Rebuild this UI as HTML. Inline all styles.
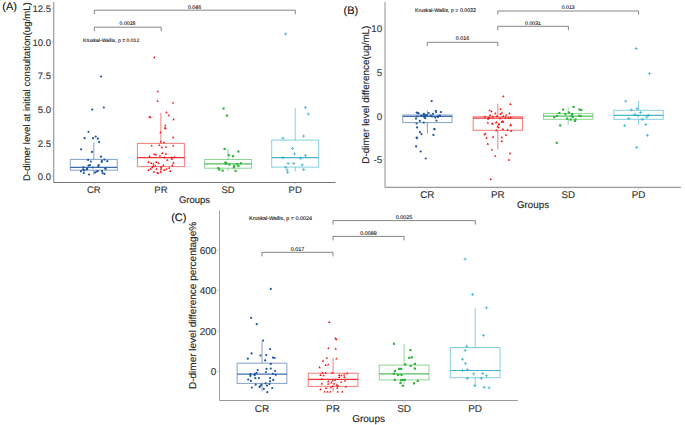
<!DOCTYPE html>
<html><head><meta charset="utf-8"><style>
html,body{margin:0;padding:0;background:#fff;width:685px;height:425px;overflow:hidden}
svg{display:block}
</style></head><body>
<svg width="685" height="425" viewBox="0 0 685 425" text-rendering="geometricPrecision" font-family='"Liberation Sans", sans-serif'>
<rect width="685" height="425" fill="#fff"/>
<line x1="53.7" y1="2" x2="53.7" y2="182.5" stroke="#999" stroke-width="1.2"/>
<line x1="53.7" y1="182.5" x2="335.5" y2="182.5" stroke="#737373" stroke-width="1.1"/>
<line x1="51.7" y1="176.0" x2="53.2" y2="176.0" stroke="#bbb" stroke-width="0.8"/>
<text x="51.0" y="180.12" font-size="9.5" text-anchor="end" fill="#333" stroke="#333" stroke-width="0.12">0.0</text>
<line x1="51.7" y1="142.45" x2="53.2" y2="142.45" stroke="#bbb" stroke-width="0.8"/>
<text x="51.0" y="146.57" font-size="9.5" text-anchor="end" fill="#333" stroke="#333" stroke-width="0.12">2.5</text>
<line x1="51.7" y1="108.9" x2="53.2" y2="108.9" stroke="#bbb" stroke-width="0.8"/>
<text x="51.0" y="113.03" font-size="9.5" text-anchor="end" fill="#333" stroke="#333" stroke-width="0.12">5.0</text>
<line x1="51.7" y1="75.35" x2="53.2" y2="75.35" stroke="#bbb" stroke-width="0.8"/>
<text x="51.0" y="79.47" font-size="9.5" text-anchor="end" fill="#333" stroke="#333" stroke-width="0.12">7.5</text>
<line x1="51.7" y1="41.80000000000001" x2="53.2" y2="41.80000000000001" stroke="#bbb" stroke-width="0.8"/>
<text x="51.0" y="45.93" font-size="9.5" text-anchor="end" fill="#333" stroke="#333" stroke-width="0.12">10.0</text>
<line x1="51.7" y1="8.25" x2="53.2" y2="8.25" stroke="#bbb" stroke-width="0.8"/>
<text x="51.0" y="12.38" font-size="9.5" text-anchor="end" fill="#333" stroke="#333" stroke-width="0.12">12.5</text>
<line x1="93.78571428571428" y1="182.60000000000002" x2="93.78571428571428" y2="184.10000000000002" stroke="#bbb" stroke-width="0.8"/>
<text x="93.78571428571428" y="193.2" font-size="9.5" text-anchor="middle" fill="#333" stroke="#333" stroke-width="0.12">CR</text>
<line x1="160.92857142857142" y1="182.60000000000002" x2="160.92857142857142" y2="184.10000000000002" stroke="#bbb" stroke-width="0.8"/>
<text x="160.92857142857142" y="193.2" font-size="9.5" text-anchor="middle" fill="#333" stroke="#333" stroke-width="0.12">PR</text>
<line x1="228.07142857142858" y1="182.60000000000002" x2="228.07142857142858" y2="184.10000000000002" stroke="#bbb" stroke-width="0.8"/>
<text x="228.07142857142858" y="193.2" font-size="9.5" text-anchor="middle" fill="#333" stroke="#333" stroke-width="0.12">SD</text>
<line x1="295.21428571428567" y1="182.60000000000002" x2="295.21428571428567" y2="184.10000000000002" stroke="#bbb" stroke-width="0.8"/>
<text x="295.21428571428567" y="193.2" font-size="9.5" text-anchor="middle" fill="#333" stroke="#333" stroke-width="0.12">PD</text>
<text x="194.5" y="203.3" font-size="9.5" text-anchor="middle" fill="#222" stroke="#222" stroke-width="0.12">Groups</text>
<text x="29.7" y="91.65" font-size="9.6" text-anchor="middle" fill="#222" stroke="#222" stroke-width="0.12" transform="rotate(-90 29.7 91.65)">D-dimer level at initial consultation(ug/mL)</text>
<text x="2.3" y="10.3" font-size="11" text-anchor="start" fill="#111" stroke="#111" stroke-width="0.12">(A)</text>
<g stroke="#1d55a0" fill="none">
<line x1="93.8" y1="159.4" x2="93.8" y2="142.2" stroke-width="1" stroke-opacity="0.55"/>
<line x1="93.8" y1="170.2" x2="93.8" y2="174.8" stroke-width="1" stroke-opacity="0.55"/>
<rect x="70.3" y="159.4" width="47.0" height="10.799999999999983" stroke-width="1" stroke-opacity="0.55"/>
<line x1="70.3" y1="167.4" x2="117.3" y2="167.4" stroke-width="1.2" stroke-opacity="0.85"/>
</g>
<circle cx="92.3" cy="109.6" r="1.1" fill="#1d55a0"/>
<circle cx="103.8" cy="107.5" r="1.1" fill="#1d55a0"/>
<circle cx="101" cy="76.5" r="1.1" fill="#1d55a0"/>
<circle cx="88.5" cy="131.8" r="1.1" fill="#1d55a0"/>
<circle cx="84.6" cy="138.2" r="1.1" fill="#1d55a0"/>
<circle cx="93.0" cy="138.2" r="1.1" fill="#1d55a0"/>
<circle cx="95.7" cy="136.6" r="1.1" fill="#1d55a0"/>
<circle cx="97.8" cy="138.7" r="1.1" fill="#1d55a0"/>
<circle cx="99.1" cy="142.1" r="1.1" fill="#1d55a0"/>
<circle cx="81.1" cy="149.3" r="1.1" fill="#1d55a0"/>
<circle cx="92.0" cy="151.9" r="1.1" fill="#1d55a0"/>
<circle cx="101" cy="156.7" r="1.1" fill="#1d55a0"/>
<circle cx="88.1" cy="159.9" r="1.1" fill="#1d55a0"/>
<circle cx="90.9" cy="161.5" r="1.1" fill="#1d55a0"/>
<circle cx="101.8" cy="160.9" r="1.1" fill="#1d55a0"/>
<circle cx="101.8" cy="162" r="1.1" fill="#1d55a0"/>
<circle cx="104.4" cy="159.6" r="1.1" fill="#1d55a0"/>
<circle cx="107.3" cy="161.2" r="1.1" fill="#1d55a0"/>
<circle cx="89.9" cy="165.2" r="1.1" fill="#1d55a0"/>
<circle cx="88.5" cy="165.7" r="1.1" fill="#1d55a0"/>
<circle cx="98.7" cy="165.2" r="1.1" fill="#1d55a0"/>
<circle cx="98.3" cy="166.7" r="1.1" fill="#1d55a0"/>
<circle cx="83.5" cy="167.3" r="1.1" fill="#1d55a0"/>
<circle cx="87.2" cy="168.9" r="1.1" fill="#1d55a0"/>
<circle cx="92.7" cy="167.5" r="1.1" fill="#1d55a0"/>
<circle cx="105.2" cy="168.3" r="1.1" fill="#1d55a0"/>
<circle cx="105.7" cy="169" r="1.1" fill="#1d55a0"/>
<circle cx="83.2" cy="169.4" r="1.1" fill="#1d55a0"/>
<circle cx="84" cy="170.4" r="1.1" fill="#1d55a0"/>
<circle cx="80.9" cy="171.2" r="1.1" fill="#1d55a0"/>
<circle cx="83.8" cy="173.1" r="1.1" fill="#1d55a0"/>
<circle cx="89.1" cy="174.5" r="1.1" fill="#1d55a0"/>
<circle cx="95.2" cy="172.6" r="1.1" fill="#1d55a0"/>
<circle cx="97.8" cy="171" r="1.1" fill="#1d55a0"/>
<circle cx="102" cy="171" r="1.1" fill="#1d55a0"/>
<circle cx="102.6" cy="173.1" r="1.1" fill="#1d55a0"/>
<circle cx="104.4" cy="173.9" r="1.1" fill="#1d55a0"/>
<circle cx="86.7" cy="169.4" r="1.1" fill="#1d55a0"/>
<circle cx="96.7" cy="171.5" r="1.1" fill="#1d55a0"/>
<g stroke="#f01010" fill="none">
<line x1="160.9" y1="143.4" x2="160.9" y2="112.8" stroke-width="1" stroke-opacity="0.55"/>
<line x1="160.9" y1="166.6" x2="160.9" y2="173.5" stroke-width="1" stroke-opacity="0.55"/>
<rect x="137.4" y="143.4" width="47.0" height="23.19999999999999" stroke-width="1" stroke-opacity="0.55"/>
<line x1="137.4" y1="157.7" x2="184.4" y2="157.7" stroke-width="1.2" stroke-opacity="0.85"/>
</g>
<path d="M154.3 56.10L155.50 58.26L153.10 58.26Z" fill="#f01010"/>
<path d="M157.8 90.20L159.00 92.36L156.60 92.36Z" fill="#f01010"/>
<path d="M157.6 99.70L158.80 101.86L156.40 101.86Z" fill="#f01010"/>
<path d="M173.0 101.40L174.20 103.56L171.80 103.56Z" fill="#f01010"/>
<path d="M166.5 111.10L167.70 113.26L165.30 113.26Z" fill="#f01010"/>
<path d="M168.7 114.20L169.90 116.36L167.50 116.36Z" fill="#f01010"/>
<path d="M149.4 115.40L150.60 117.56L148.20 117.56Z" fill="#f01010"/>
<path d="M150.4 116.10L151.60 118.26L149.20 118.26Z" fill="#f01010"/>
<path d="M173.5 118.00L174.70 120.16L172.30 120.16Z" fill="#f01010"/>
<path d="M165.3 124.20L166.50 126.36L164.10 126.36Z" fill="#f01010"/>
<path d="M164.9 126.50L166.10 128.66L163.70 128.66Z" fill="#f01010"/>
<path d="M165.6 127.10L166.80 129.26L164.40 129.26Z" fill="#f01010"/>
<path d="M160.5 131.20L161.70 133.36L159.30 133.36Z" fill="#f01010"/>
<path d="M173.2 136.10L174.40 138.26L172.00 138.26Z" fill="#f01010"/>
<path d="M160.7 140.40L161.90 142.56L159.50 142.56Z" fill="#f01010"/>
<path d="M163.9 141.20L165.10 143.36L162.70 143.36Z" fill="#f01010"/>
<path d="M151.7 144.40L152.90 146.56L150.50 146.56Z" fill="#f01010"/>
<path d="M159.4 143.90L160.60 146.06L158.20 146.06Z" fill="#f01010"/>
<path d="M161.8 146.00L163.00 148.16L160.60 148.16Z" fill="#f01010"/>
<path d="M166.0 145.70L167.20 147.86L164.80 147.86Z" fill="#f01010"/>
<path d="M173.2 144.40L174.40 146.56L172.00 146.56Z" fill="#f01010"/>
<path d="M154.3 152.90L155.50 155.06L153.10 155.06Z" fill="#f01010"/>
<path d="M155.9 153.40L157.10 155.56L154.70 155.56Z" fill="#f01010"/>
<path d="M162.3 151.80L163.50 153.96L161.10 153.96Z" fill="#f01010"/>
<path d="M166.0 152.60L167.20 154.76L164.80 154.76Z" fill="#f01010"/>
<path d="M149.6 155.00L150.80 157.16L148.40 157.16Z" fill="#f01010"/>
<path d="M159.9 154.40L161.10 156.56L158.70 156.56Z" fill="#f01010"/>
<path d="M164.4 156.00L165.60 158.16L163.20 158.16Z" fill="#f01010"/>
<path d="M171.8 156.00L173.00 158.16L170.60 158.16Z" fill="#f01010"/>
<path d="M174.5 155.80L175.70 157.96L173.30 157.96Z" fill="#f01010"/>
<path d="M171.8 157.60L173.00 159.76L170.60 159.76Z" fill="#f01010"/>
<path d="M167.3 158.70L168.50 160.86L166.10 160.86Z" fill="#f01010"/>
<path d="M148.5 160.80L149.70 162.96L147.30 162.96Z" fill="#f01010"/>
<path d="M151.2 161.90L152.40 164.06L150.00 164.06Z" fill="#f01010"/>
<path d="M153.5 162.40L154.70 164.56L152.30 164.56Z" fill="#f01010"/>
<path d="M156.3 160.80L157.50 162.96L155.10 162.96Z" fill="#f01010"/>
<path d="M158.6 161.90L159.80 164.06L157.40 164.06Z" fill="#f01010"/>
<path d="M173.4 161.50L174.60 163.66L172.20 163.66Z" fill="#f01010"/>
<path d="M172.3 164.00L173.50 166.16L171.10 166.16Z" fill="#f01010"/>
<path d="M155.4 164.50L156.60 166.66L154.20 166.66Z" fill="#f01010"/>
<path d="M153.3 164.50L154.50 166.66L152.10 166.66Z" fill="#f01010"/>
<path d="M163.3 164.00L164.50 166.16L162.10 166.16Z" fill="#f01010"/>
<path d="M161.2 165.60L162.40 167.76L160.00 167.76Z" fill="#f01010"/>
<path d="M152.2 166.10L153.40 168.26L151.00 168.26Z" fill="#f01010"/>
<path d="M156.5 167.50L157.70 169.66L155.30 169.66Z" fill="#f01010"/>
<path d="M150.6 167.70L151.80 169.86L149.40 169.86Z" fill="#f01010"/>
<path d="M148.5 168.80L149.70 170.96L147.30 170.96Z" fill="#f01010"/>
<path d="M161.2 167.70L162.40 169.86L160.00 169.86Z" fill="#f01010"/>
<path d="M164.4 168.80L165.60 170.96L163.20 170.96Z" fill="#f01010"/>
<path d="M166.5 167.70L167.70 169.86L165.30 169.86Z" fill="#f01010"/>
<path d="M169.2 166.60L170.40 168.76L168.00 168.76Z" fill="#f01010"/>
<path d="M154.1 170.60L155.30 172.76L152.90 172.76Z" fill="#f01010"/>
<path d="M157.3 171.40L158.50 173.56L156.10 173.56Z" fill="#f01010"/>
<path d="M160.7 170.60L161.90 172.76L159.50 172.76Z" fill="#f01010"/>
<path d="M170.2 169.80L171.40 171.96L169.00 171.96Z" fill="#f01010"/>
<path d="M158.0 171.90L159.20 174.06L156.80 174.06Z" fill="#f01010"/>
<g stroke="#33b33f" fill="none">
<line x1="228.1" y1="159.5" x2="228.1" y2="148.9" stroke-width="1" stroke-opacity="0.55"/>
<line x1="228.1" y1="168.2" x2="228.1" y2="171" stroke-width="1" stroke-opacity="0.55"/>
<rect x="204.6" y="159.5" width="47.0" height="8.699999999999989" stroke-width="1" stroke-opacity="0.55"/>
<line x1="204.6" y1="163.8" x2="251.6" y2="163.8" stroke-width="1.2" stroke-opacity="0.85"/>
</g>
<rect x="222.40" y="107.40" width="2.2" height="2.2" fill="#33b33f"/>
<rect x="225.80" y="114.50" width="2.2" height="2.2" fill="#33b33f"/>
<rect x="223.50" y="147.80" width="2.2" height="2.2" fill="#33b33f"/>
<rect x="237.30" y="150.40" width="2.2" height="2.2" fill="#33b33f"/>
<rect x="227.60" y="153.90" width="2.2" height="2.2" fill="#33b33f"/>
<rect x="232.00" y="155.10" width="2.2" height="2.2" fill="#33b33f"/>
<rect x="224.30" y="161.50" width="2.2" height="2.2" fill="#33b33f"/>
<rect x="225.20" y="161.90" width="2.2" height="2.2" fill="#33b33f"/>
<rect x="224.80" y="162.60" width="2.2" height="2.2" fill="#33b33f"/>
<rect x="228.30" y="163.50" width="2.2" height="2.2" fill="#33b33f"/>
<rect x="236.10" y="162.90" width="2.2" height="2.2" fill="#33b33f"/>
<rect x="237.30" y="164.80" width="2.2" height="2.2" fill="#33b33f"/>
<rect x="239.80" y="162.20" width="2.2" height="2.2" fill="#33b33f"/>
<rect x="233.20" y="164.80" width="2.2" height="2.2" fill="#33b33f"/>
<rect x="232.80" y="166.20" width="2.2" height="2.2" fill="#33b33f"/>
<rect x="217.20" y="167.10" width="2.2" height="2.2" fill="#33b33f"/>
<rect x="218.20" y="168.50" width="2.2" height="2.2" fill="#33b33f"/>
<rect x="221.50" y="169.50" width="2.2" height="2.2" fill="#33b33f"/>
<rect x="234.50" y="169.80" width="2.2" height="2.2" fill="#33b33f"/>
<g stroke="#22a8c6" fill="none">
<line x1="295.2" y1="140.1" x2="295.2" y2="107.9" stroke-width="1" stroke-opacity="0.55"/>
<line x1="295.2" y1="167.1" x2="295.2" y2="171.5" stroke-width="1" stroke-opacity="0.55"/>
<rect x="271.7" y="140.1" width="47.0" height="27.0" stroke-width="1" stroke-opacity="0.55"/>
<line x1="271.7" y1="157.7" x2="318.7" y2="157.7" stroke-width="1.2" stroke-opacity="0.85"/>
</g>
<path d="M284.00 34.0H287.20M285.6 32.40V35.60" stroke="#22a8c6" stroke-width="0.65" fill="none"/>
<path d="M303.80 107.5H307.00M305.4 105.90V109.10" stroke="#22a8c6" stroke-width="0.65" fill="none"/>
<path d="M306.70 114.1H309.90M308.3 112.50V115.70" stroke="#22a8c6" stroke-width="0.65" fill="none"/>
<path d="M281.30 138.2H284.50M282.9 136.60V139.80" stroke="#22a8c6" stroke-width="0.65" fill="none"/>
<path d="M302.00 136.1H305.20M303.6 134.50V137.70" stroke="#22a8c6" stroke-width="0.65" fill="none"/>
<path d="M291.00 148.5H294.20M292.6 146.90V150.10" stroke="#22a8c6" stroke-width="0.65" fill="none"/>
<path d="M292.90 154H296.10M294.5 152.40V155.60" stroke="#22a8c6" stroke-width="0.65" fill="none"/>
<path d="M303.80 155.5H307.00M305.4 153.90V157.10" stroke="#22a8c6" stroke-width="0.65" fill="none"/>
<path d="M281.30 157.7H284.50M282.9 156.10V159.30" stroke="#22a8c6" stroke-width="0.65" fill="none"/>
<path d="M299.10 158.3H302.30M300.7 156.70V159.90" stroke="#22a8c6" stroke-width="0.65" fill="none"/>
<path d="M286.50 163.4H289.70M288.1 161.80V165.00" stroke="#22a8c6" stroke-width="0.65" fill="none"/>
<path d="M292.20 163.4H295.40M293.8 161.80V165.00" stroke="#22a8c6" stroke-width="0.65" fill="none"/>
<path d="M300.60 164.9H303.80M302.2 163.30V166.50" stroke="#22a8c6" stroke-width="0.65" fill="none"/>
<path d="M284.10 167.3H287.30M285.7 165.70V168.90" stroke="#22a8c6" stroke-width="0.65" fill="none"/>
<path d="M285.60 170H288.80M287.2 168.40V171.60" stroke="#22a8c6" stroke-width="0.65" fill="none"/>
<path d="M286.00 172.4H289.20M287.6 170.80V174.00" stroke="#22a8c6" stroke-width="0.65" fill="none"/>
<path d="M302.00 169.6H305.20M303.6 168.00V171.20" stroke="#22a8c6" stroke-width="0.65" fill="none"/>
<line x1="385.0" y1="2" x2="385.0" y2="187.4" stroke="#c8c8c8" stroke-width="2"/>
<line x1="385.0" y1="187.4" x2="680.9" y2="187.4" stroke="#999" stroke-width="1.2"/>
<line x1="383.3" y1="159.65" x2="384.8" y2="159.65" stroke="#bbb" stroke-width="0.8"/>
<text x="382.1" y="163.38" font-size="9.8" text-anchor="end" fill="#333" stroke="#333" stroke-width="0.12">-5</text>
<line x1="383.3" y1="115.9" x2="384.8" y2="115.9" stroke="#bbb" stroke-width="0.8"/>
<text x="382.1" y="119.63" font-size="9.8" text-anchor="end" fill="#333" stroke="#333" stroke-width="0.12">0</text>
<line x1="383.3" y1="72.15" x2="384.8" y2="72.15" stroke="#bbb" stroke-width="0.8"/>
<text x="382.1" y="75.88" font-size="9.8" text-anchor="end" fill="#333" stroke="#333" stroke-width="0.12">5</text>
<line x1="383.3" y1="28.400000000000006" x2="384.8" y2="28.400000000000006" stroke="#bbb" stroke-width="0.8"/>
<text x="382.1" y="32.13" font-size="9.8" text-anchor="end" fill="#333" stroke="#333" stroke-width="0.12">10</text>
<line x1="427.3571428571429" y1="187.60000000000002" x2="427.3571428571429" y2="189.10000000000002" stroke="#bbb" stroke-width="0.8"/>
<text x="427.3571428571429" y="197.8" font-size="9.8" text-anchor="middle" fill="#333" stroke="#333" stroke-width="0.12">CR</text>
<line x1="497.7857142857143" y1="187.60000000000002" x2="497.7857142857143" y2="189.10000000000002" stroke="#bbb" stroke-width="0.8"/>
<text x="497.7857142857143" y="197.8" font-size="9.8" text-anchor="middle" fill="#333" stroke="#333" stroke-width="0.12">PR</text>
<line x1="568.2142857142858" y1="187.60000000000002" x2="568.2142857142858" y2="189.10000000000002" stroke="#bbb" stroke-width="0.8"/>
<text x="568.2142857142858" y="197.8" font-size="9.8" text-anchor="middle" fill="#333" stroke="#333" stroke-width="0.12">SD</text>
<line x1="638.6428571428571" y1="187.60000000000002" x2="638.6428571428571" y2="189.10000000000002" stroke="#bbb" stroke-width="0.8"/>
<text x="638.6428571428571" y="197.8" font-size="9.8" text-anchor="middle" fill="#333" stroke="#333" stroke-width="0.12">PD</text>
<text x="533.0" y="208.4" font-size="9.8" text-anchor="middle" fill="#222" stroke="#222" stroke-width="0.12">Groups</text>
<text x="368.6" y="94.65" font-size="9.9" text-anchor="middle" fill="#222" stroke="#222" stroke-width="0.12" transform="rotate(-90 368.6 94.65)">D-dimer level difference(ug/mL)</text>
<text x="343.5" y="13.7" font-size="11" text-anchor="start" fill="#111" stroke="#111" stroke-width="0.12">(B)</text>
<g stroke="#1d55a0" fill="none">
<line x1="427.4" y1="115.0" x2="427.4" y2="110.8" stroke-width="1" stroke-opacity="0.55"/>
<line x1="427.4" y1="122.6" x2="427.4" y2="133.7" stroke-width="1" stroke-opacity="0.55"/>
<rect x="402.75" y="115.0" width="49.3" height="7.599999999999994" stroke-width="1" stroke-opacity="0.55"/>
<line x1="402.75" y1="116.3" x2="452.04999999999995" y2="116.3" stroke-width="1.2" stroke-opacity="0.85"/>
</g>
<circle cx="431.7" cy="101.1" r="1.1" fill="#1d55a0"/>
<circle cx="435.7" cy="110.8" r="1.1" fill="#1d55a0"/>
<circle cx="436.1" cy="112.1" r="1.1" fill="#1d55a0"/>
<circle cx="440.9" cy="112.1" r="1.1" fill="#1d55a0"/>
<circle cx="416.6" cy="112.5" r="1.1" fill="#1d55a0"/>
<circle cx="417.7" cy="113" r="1.1" fill="#1d55a0"/>
<circle cx="418.6" cy="113.4" r="1.1" fill="#1d55a0"/>
<circle cx="428.7" cy="113" r="1.1" fill="#1d55a0"/>
<circle cx="433" cy="113.8" r="1.1" fill="#1d55a0"/>
<circle cx="423.8" cy="113.8" r="1.1" fill="#1d55a0"/>
<circle cx="421.2" cy="115.6" r="1.1" fill="#1d55a0"/>
<circle cx="423.4" cy="115.6" r="1.1" fill="#1d55a0"/>
<circle cx="424.7" cy="114.7" r="1.1" fill="#1d55a0"/>
<circle cx="426" cy="116" r="1.1" fill="#1d55a0"/>
<circle cx="424.3" cy="116.9" r="1.1" fill="#1d55a0"/>
<circle cx="426.9" cy="115.1" r="1.1" fill="#1d55a0"/>
<circle cx="430.8" cy="115.6" r="1.1" fill="#1d55a0"/>
<circle cx="432.2" cy="116.5" r="1.1" fill="#1d55a0"/>
<circle cx="416.8" cy="116.5" r="1.1" fill="#1d55a0"/>
<circle cx="438.3" cy="116" r="1.1" fill="#1d55a0"/>
<circle cx="440" cy="115.6" r="1.1" fill="#1d55a0"/>
<circle cx="437.9" cy="117.1" r="1.1" fill="#1d55a0"/>
<circle cx="435.2" cy="117.6" r="1.1" fill="#1d55a0"/>
<circle cx="425.2" cy="118.2" r="1.1" fill="#1d55a0"/>
<circle cx="416" cy="118.6" r="1.1" fill="#1d55a0"/>
<circle cx="419.9" cy="120.8" r="1.1" fill="#1d55a0"/>
<circle cx="436.4" cy="120.6" r="1.1" fill="#1d55a0"/>
<circle cx="423.8" cy="122.6" r="1.1" fill="#1d55a0"/>
<circle cx="416.6" cy="123.5" r="1.1" fill="#1d55a0"/>
<circle cx="417.1" cy="127.4" r="1.1" fill="#1d55a0"/>
<circle cx="434.3" cy="129" r="1.1" fill="#1d55a0"/>
<circle cx="434.6" cy="129.3" r="1.1" fill="#1d55a0"/>
<circle cx="419.9" cy="132.1" r="1.1" fill="#1d55a0"/>
<circle cx="421.4" cy="134.1" r="1.1" fill="#1d55a0"/>
<circle cx="433.4" cy="134.9" r="1.1" fill="#1d55a0"/>
<circle cx="416.6" cy="137.5" r="1.1" fill="#1d55a0"/>
<circle cx="417" cy="138.2" r="1.1" fill="#1d55a0"/>
<circle cx="416.1" cy="146.4" r="1.1" fill="#1d55a0"/>
<circle cx="420.6" cy="151.5" r="1.1" fill="#1d55a0"/>
<circle cx="425.7" cy="158.5" r="1.1" fill="#1d55a0"/>
<g stroke="#f01010" fill="none">
<line x1="497.8" y1="116.7" x2="497.8" y2="103.8" stroke-width="1" stroke-opacity="0.55"/>
<line x1="497.8" y1="130.3" x2="497.8" y2="149.6" stroke-width="1" stroke-opacity="0.55"/>
<rect x="473.15000000000003" y="116.7" width="49.3" height="13.600000000000009" stroke-width="1" stroke-opacity="0.55"/>
<line x1="473.15000000000003" y1="118.2" x2="522.45" y2="118.2" stroke-width="1.2" stroke-opacity="0.85"/>
</g>
<path d="M503.3 95.10L504.50 97.26L502.10 97.26Z" fill="#f01010"/>
<path d="M510.5 102.80L511.70 104.96L509.30 104.96Z" fill="#f01010"/>
<path d="M500.5 107.80L501.70 109.96L499.30 109.96Z" fill="#f01010"/>
<path d="M489.6 109.20L490.80 111.36L488.40 111.36Z" fill="#f01010"/>
<path d="M491.5 110.00L492.70 112.16L490.30 112.16Z" fill="#f01010"/>
<path d="M495.3 112.00L496.50 114.16L494.10 114.16Z" fill="#f01010"/>
<path d="M501.9 111.60L503.10 113.76L500.70 113.76Z" fill="#f01010"/>
<path d="M500.5 112.80L501.70 114.96L499.30 114.96Z" fill="#f01010"/>
<path d="M509.4 112.00L510.60 114.16L508.20 114.16Z" fill="#f01010"/>
<path d="M490.1 113.90L491.30 116.06L488.90 116.06Z" fill="#f01010"/>
<path d="M506.1 113.70L507.30 115.86L504.90 115.86Z" fill="#f01010"/>
<path d="M484.9 115.30L486.10 117.46L483.70 117.46Z" fill="#f01010"/>
<path d="M492.9 115.30L494.10 117.46L491.70 117.46Z" fill="#f01010"/>
<path d="M497.0 114.80L498.20 116.96L495.80 116.96Z" fill="#f01010"/>
<path d="M503.3 114.80L504.50 116.96L502.10 116.96Z" fill="#f01010"/>
<path d="M488.2 116.70L489.40 118.86L487.00 118.86Z" fill="#f01010"/>
<path d="M489.4 116.30L490.60 118.46L488.20 118.46Z" fill="#f01010"/>
<path d="M505.6 116.30L506.80 118.46L504.40 118.46Z" fill="#f01010"/>
<path d="M508.9 116.70L510.10 118.86L507.70 118.86Z" fill="#f01010"/>
<path d="M510.8 116.30L512.00 118.46L509.60 118.46Z" fill="#f01010"/>
<path d="M500.0 117.20L501.20 119.36L498.80 119.36Z" fill="#f01010"/>
<path d="M488.2 117.70L489.40 119.86L487.00 119.86Z" fill="#f01010"/>
<path d="M502.3 120.00L503.50 122.16L501.10 122.16Z" fill="#f01010"/>
<path d="M503.3 120.50L504.50 122.66L502.10 122.66Z" fill="#f01010"/>
<path d="M487.8 121.40L489.00 123.56L486.60 123.56Z" fill="#f01010"/>
<path d="M492.3 122.20L493.50 124.36L491.10 124.36Z" fill="#f01010"/>
<path d="M496.2 121.20L497.40 123.36L495.00 123.36Z" fill="#f01010"/>
<path d="M499.0 122.80L500.20 124.96L497.80 124.96Z" fill="#f01010"/>
<path d="M510.8 123.30L512.00 125.46L509.60 125.46Z" fill="#f01010"/>
<path d="M492.4 122.40L493.60 124.56L491.20 124.56Z" fill="#f01010"/>
<path d="M496.3 121.20L497.50 123.36L495.10 123.36Z" fill="#f01010"/>
<path d="M501.8 120.70L503.00 122.86L500.60 122.86Z" fill="#f01010"/>
<path d="M498.5 123.40L499.70 125.56L497.30 125.56Z" fill="#f01010"/>
<path d="M497.7 125.30L498.90 127.46L496.50 127.46Z" fill="#f01010"/>
<path d="M498.5 126.20L499.70 128.36L497.30 128.36Z" fill="#f01010"/>
<path d="M510.5 124.00L511.70 126.16L509.30 126.16Z" fill="#f01010"/>
<path d="M502.9 127.80L504.10 129.96L501.70 129.96Z" fill="#f01010"/>
<path d="M507.6 128.60L508.80 130.76L506.40 130.76Z" fill="#f01010"/>
<path d="M511.2 129.50L512.40 131.66L510.00 131.66Z" fill="#f01010"/>
<path d="M496.3 129.00L497.50 131.16L495.10 131.16Z" fill="#f01010"/>
<path d="M484.5 133.20L485.70 135.36L483.30 135.36Z" fill="#f01010"/>
<path d="M485.3 132.30L486.50 134.46L484.10 134.46Z" fill="#f01010"/>
<path d="M486.5 136.50L487.70 138.66L485.30 138.66Z" fill="#f01010"/>
<path d="M493.1 135.60L494.30 137.76L491.90 137.76Z" fill="#f01010"/>
<path d="M501.8 136.10L503.00 138.26L500.60 138.26Z" fill="#f01010"/>
<path d="M505.9 133.60L507.10 135.76L504.70 135.76Z" fill="#f01010"/>
<path d="M501.8 139.80L503.00 141.96L500.60 141.96Z" fill="#f01010"/>
<path d="M487.8 142.60L489.00 144.76L486.60 144.76Z" fill="#f01010"/>
<path d="M491.9 148.40L493.10 150.56L490.70 150.56Z" fill="#f01010"/>
<path d="M510.0 152.00L511.20 154.16L508.80 154.16Z" fill="#f01010"/>
<path d="M495.2 154.70L496.40 156.86L494.00 156.86Z" fill="#f01010"/>
<path d="M508.9 158.60L510.10 160.76L507.70 160.76Z" fill="#f01010"/>
<path d="M490.7 177.80L491.90 179.96L489.50 179.96Z" fill="#f01010"/>
<g stroke="#33b33f" fill="none">
<line x1="568.2" y1="113.4" x2="568.2" y2="107.3" stroke-width="1" stroke-opacity="0.55"/>
<line x1="568.2" y1="119.3" x2="568.2" y2="124.7" stroke-width="1" stroke-opacity="0.55"/>
<rect x="543.5500000000001" y="113.4" width="49.3" height="5.8999999999999915" stroke-width="1" stroke-opacity="0.55"/>
<line x1="543.5500000000001" y1="116.1" x2="592.85" y2="116.1" stroke-width="1.2" stroke-opacity="0.85"/>
</g>
<rect x="572.50" y="105.80" width="2.2" height="2.2" fill="#33b33f"/>
<rect x="562.10" y="108.50" width="2.2" height="2.2" fill="#33b33f"/>
<rect x="578.30" y="108.50" width="2.2" height="2.2" fill="#33b33f"/>
<rect x="580.20" y="108.80" width="2.2" height="2.2" fill="#33b33f"/>
<rect x="558.20" y="112.00" width="2.2" height="2.2" fill="#33b33f"/>
<rect x="567.90" y="111.60" width="2.2" height="2.2" fill="#33b33f"/>
<rect x="564.30" y="113.00" width="2.2" height="2.2" fill="#33b33f"/>
<rect x="571.20" y="113.00" width="2.2" height="2.2" fill="#33b33f"/>
<rect x="570.50" y="114.80" width="2.2" height="2.2" fill="#33b33f"/>
<rect x="555.70" y="114.80" width="2.2" height="2.2" fill="#33b33f"/>
<rect x="553.10" y="116.10" width="2.2" height="2.2" fill="#33b33f"/>
<rect x="578.30" y="114.60" width="2.2" height="2.2" fill="#33b33f"/>
<rect x="579.60" y="115.00" width="2.2" height="2.2" fill="#33b33f"/>
<rect x="571.60" y="115.90" width="2.2" height="2.2" fill="#33b33f"/>
<rect x="566.00" y="117.60" width="2.2" height="2.2" fill="#33b33f"/>
<rect x="569.50" y="118.50" width="2.2" height="2.2" fill="#33b33f"/>
<rect x="574.40" y="118.50" width="2.2" height="2.2" fill="#33b33f"/>
<rect x="573.80" y="119.80" width="2.2" height="2.2" fill="#33b33f"/>
<rect x="559.10" y="124.30" width="2.2" height="2.2" fill="#33b33f"/>
<rect x="555.70" y="141.70" width="2.2" height="2.2" fill="#33b33f"/>
<g stroke="#22a8c6" fill="none">
<line x1="638.6" y1="110.3" x2="638.6" y2="100.8" stroke-width="1" stroke-opacity="0.55"/>
<line x1="638.6" y1="119.3" x2="638.6" y2="125" stroke-width="1" stroke-opacity="0.55"/>
<rect x="613.95" y="110.3" width="49.3" height="9.0" stroke-width="1" stroke-opacity="0.55"/>
<line x1="613.95" y1="115.3" x2="663.25" y2="115.3" stroke-width="1.2" stroke-opacity="0.85"/>
</g>
<path d="M634.60 48.5H637.80M636.2 46.90V50.10" stroke="#22a8c6" stroke-width="0.65" fill="none"/>
<path d="M647.90 73.6H651.10M649.5 72.00V75.20" stroke="#22a8c6" stroke-width="0.65" fill="none"/>
<path d="M624.20 101.2H627.40M625.8 99.60V102.80" stroke="#22a8c6" stroke-width="0.65" fill="none"/>
<path d="M629.70 109.9H632.90M631.3 108.30V111.50" stroke="#22a8c6" stroke-width="0.65" fill="none"/>
<path d="M635.50 108.6H638.70M637.1 107.00V110.20" stroke="#22a8c6" stroke-width="0.65" fill="none"/>
<path d="M639.00 112.5H642.20M640.6 110.90V114.10" stroke="#22a8c6" stroke-width="0.65" fill="none"/>
<path d="M633.30 114.4H636.50M634.9 112.80V116.00" stroke="#22a8c6" stroke-width="0.65" fill="none"/>
<path d="M636.40 115.7H639.60M638 114.10V117.30" stroke="#22a8c6" stroke-width="0.65" fill="none"/>
<path d="M646.70 115.3H649.90M648.3 113.70V116.90" stroke="#22a8c6" stroke-width="0.65" fill="none"/>
<path d="M645.20 117H648.40M646.8 115.40V118.60" stroke="#22a8c6" stroke-width="0.65" fill="none"/>
<path d="M627.10 118.5H630.30M628.7 116.90V120.10" stroke="#22a8c6" stroke-width="0.65" fill="none"/>
<path d="M640.70 119.3H643.90M642.3 117.70V120.90" stroke="#22a8c6" stroke-width="0.65" fill="none"/>
<path d="M623.00 125.6H626.20M624.6 124.00V127.20" stroke="#22a8c6" stroke-width="0.65" fill="none"/>
<path d="M644.20 124.5H647.40M645.8 122.90V126.10" stroke="#22a8c6" stroke-width="0.65" fill="none"/>
<path d="M645.80 135.3H649.00M647.4 133.70V136.90" stroke="#22a8c6" stroke-width="0.65" fill="none"/>
<path d="M635.10 147.4H638.30M636.7 145.80V149.00" stroke="#22a8c6" stroke-width="0.65" fill="none"/>
<line x1="219.5" y1="210.4" x2="219.5" y2="400.5" stroke="#a0a0a0" stroke-width="1"/>
<line x1="219.5" y1="400.5" x2="517.8" y2="400.5" stroke="#999" stroke-width="1"/>
<line x1="217.6" y1="371.4" x2="219.1" y2="371.4" stroke="#bbb" stroke-width="0.8"/>
<text x="216.4" y="375.2" font-size="10" text-anchor="end" fill="#333" stroke="#333" stroke-width="0.12">0</text>
<line x1="217.6" y1="330.9" x2="219.1" y2="330.9" stroke="#bbb" stroke-width="0.8"/>
<text x="216.4" y="334.7" font-size="10" text-anchor="end" fill="#333" stroke="#333" stroke-width="0.12">200</text>
<line x1="217.6" y1="290.4" x2="219.1" y2="290.4" stroke="#bbb" stroke-width="0.8"/>
<text x="216.4" y="294.2" font-size="10" text-anchor="end" fill="#333" stroke="#333" stroke-width="0.12">400</text>
<line x1="217.6" y1="249.89999999999998" x2="219.1" y2="249.89999999999998" stroke="#bbb" stroke-width="0.8"/>
<text x="216.4" y="253.7" font-size="10" text-anchor="end" fill="#333" stroke="#333" stroke-width="0.12">600</text>
<line x1="262.0285714285714" y1="400.8" x2="262.0285714285714" y2="402.3" stroke="#bbb" stroke-width="0.8"/>
<text x="262.0285714285714" y="411.6" font-size="10" text-anchor="middle" fill="#333" stroke="#333" stroke-width="0.12">CR</text>
<line x1="333.07619047619045" y1="400.8" x2="333.07619047619045" y2="402.3" stroke="#bbb" stroke-width="0.8"/>
<text x="333.07619047619045" y="411.6" font-size="10" text-anchor="middle" fill="#333" stroke="#333" stroke-width="0.12">PR</text>
<line x1="404.12380952380954" y1="400.8" x2="404.12380952380954" y2="402.3" stroke="#bbb" stroke-width="0.8"/>
<text x="404.12380952380954" y="411.6" font-size="10" text-anchor="middle" fill="#333" stroke="#333" stroke-width="0.12">SD</text>
<line x1="475.1714285714286" y1="400.8" x2="475.1714285714286" y2="402.3" stroke="#bbb" stroke-width="0.8"/>
<text x="475.1714285714286" y="411.6" font-size="10" text-anchor="middle" fill="#333" stroke="#333" stroke-width="0.12">PD</text>
<text x="368.59999999999997" y="422.1" font-size="10" text-anchor="middle" fill="#222" stroke="#222" stroke-width="0.12">Groups</text>
<text x="196.2" y="305.45" font-size="10" text-anchor="middle" fill="#222" stroke="#222" stroke-width="0.12" transform="rotate(-90 196.2 305.45)">D-dimer level difference percentage%</text>
<text x="171.2" y="221.4" font-size="11" text-anchor="start" fill="#111" stroke="#111" stroke-width="0.12">(C)</text>
<g stroke="#1d55a0" fill="none">
<line x1="262.0" y1="363.2" x2="262.0" y2="341.4" stroke-width="1" stroke-opacity="0.55"/>
<line x1="262.0" y1="383.4" x2="262.0" y2="391.5" stroke-width="1" stroke-opacity="0.55"/>
<rect x="237.13" y="363.2" width="49.74" height="20.19999999999999" stroke-width="1" stroke-opacity="0.55"/>
<line x1="237.13" y1="374.2" x2="286.87" y2="374.2" stroke-width="1.2" stroke-opacity="0.85"/>
</g>
<circle cx="270.8" cy="288.9" r="1.1" fill="#1d55a0"/>
<circle cx="251.1" cy="317.8" r="1.1" fill="#1d55a0"/>
<circle cx="256.7" cy="324.2" r="1.1" fill="#1d55a0"/>
<circle cx="263.1" cy="340.6" r="1.1" fill="#1d55a0"/>
<circle cx="270.1" cy="349.1" r="1.1" fill="#1d55a0"/>
<circle cx="251.5" cy="353.4" r="1.1" fill="#1d55a0"/>
<circle cx="247.8" cy="358.7" r="1.1" fill="#1d55a0"/>
<circle cx="260.5" cy="355.5" r="1.1" fill="#1d55a0"/>
<circle cx="266.2" cy="355" r="1.1" fill="#1d55a0"/>
<circle cx="272.9" cy="357.6" r="1.1" fill="#1d55a0"/>
<circle cx="274.6" cy="358" r="1.1" fill="#1d55a0"/>
<circle cx="265.2" cy="360.4" r="1.1" fill="#1d55a0"/>
<circle cx="270.8" cy="363.9" r="1.1" fill="#1d55a0"/>
<circle cx="257.7" cy="370" r="1.1" fill="#1d55a0"/>
<circle cx="266.6" cy="368.9" r="1.1" fill="#1d55a0"/>
<circle cx="270.8" cy="368.6" r="1.1" fill="#1d55a0"/>
<circle cx="275.1" cy="371" r="1.1" fill="#1d55a0"/>
<circle cx="265.9" cy="372" r="1.1" fill="#1d55a0"/>
<circle cx="256.7" cy="372.8" r="1.1" fill="#1d55a0"/>
<circle cx="254.9" cy="373.8" r="1.1" fill="#1d55a0"/>
<circle cx="250.4" cy="374.2" r="1.1" fill="#1d55a0"/>
<circle cx="272.9" cy="373.8" r="1.1" fill="#1d55a0"/>
<circle cx="275.8" cy="374.8" r="1.1" fill="#1d55a0"/>
<circle cx="254.6" cy="375.2" r="1.1" fill="#1d55a0"/>
<circle cx="250.4" cy="375.9" r="1.1" fill="#1d55a0"/>
<circle cx="255.3" cy="378.1" r="1.1" fill="#1d55a0"/>
<circle cx="258.8" cy="378.1" r="1.1" fill="#1d55a0"/>
<circle cx="270.1" cy="378.1" r="1.1" fill="#1d55a0"/>
<circle cx="248.2" cy="379.5" r="1.1" fill="#1d55a0"/>
<circle cx="250.8" cy="380.9" r="1.1" fill="#1d55a0"/>
<circle cx="273.2" cy="379.9" r="1.1" fill="#1d55a0"/>
<circle cx="270.1" cy="381.3" r="1.1" fill="#1d55a0"/>
<circle cx="265.6" cy="383.3" r="1.1" fill="#1d55a0"/>
<circle cx="269.4" cy="384.1" r="1.1" fill="#1d55a0"/>
<circle cx="255.7" cy="384.7" r="1.1" fill="#1d55a0"/>
<circle cx="261.4" cy="384.7" r="1.1" fill="#1d55a0"/>
<circle cx="260.2" cy="386.1" r="1.1" fill="#1d55a0"/>
<circle cx="259.5" cy="387" r="1.1" fill="#1d55a0"/>
<circle cx="267" cy="385.5" r="1.1" fill="#1d55a0"/>
<circle cx="251.8" cy="387.5" r="1.1" fill="#1d55a0"/>
<circle cx="263.8" cy="388.9" r="1.1" fill="#1d55a0"/>
<circle cx="272.2" cy="388" r="1.1" fill="#1d55a0"/>
<circle cx="267.3" cy="392.2" r="1.1" fill="#1d55a0"/>
<g stroke="#f01010" fill="none">
<line x1="333.1" y1="373.2" x2="333.1" y2="357.9" stroke-width="1" stroke-opacity="0.55"/>
<line x1="333.1" y1="386.4" x2="333.1" y2="391.6" stroke-width="1" stroke-opacity="0.55"/>
<rect x="308.23" y="373.2" width="49.74" height="13.199999999999989" stroke-width="1" stroke-opacity="0.55"/>
<line x1="308.23" y1="379.3" x2="357.97" y2="379.3" stroke-width="1.2" stroke-opacity="0.85"/>
</g>
<path d="M329.3 320.80L330.50 322.96L328.10 322.96Z" fill="#f01010"/>
<path d="M335.5 337.00L336.70 339.16L334.30 339.16Z" fill="#f01010"/>
<path d="M336.4 338.00L337.60 340.16L335.20 340.16Z" fill="#f01010"/>
<path d="M328.4 346.90L329.60 349.06L327.20 349.06Z" fill="#f01010"/>
<path d="M335.7 347.60L336.90 349.76L334.50 349.76Z" fill="#f01010"/>
<path d="M326.9 356.70L328.10 358.86L325.70 358.86Z" fill="#f01010"/>
<path d="M336.4 357.40L337.60 359.56L335.20 359.56Z" fill="#f01010"/>
<path d="M323.0 359.60L324.20 361.76L321.80 361.76Z" fill="#f01010"/>
<path d="M325.6 363.80L326.80 365.96L324.40 365.96Z" fill="#f01010"/>
<path d="M328.2 363.20L329.40 365.36L327.00 365.36Z" fill="#f01010"/>
<path d="M319.6 366.00L320.80 368.16L318.40 368.16Z" fill="#f01010"/>
<path d="M322.4 371.60L323.60 373.76L321.20 373.76Z" fill="#f01010"/>
<path d="M325.6 371.60L326.80 373.76L324.40 373.76Z" fill="#f01010"/>
<path d="M332.1 371.60L333.30 373.76L330.90 373.76Z" fill="#f01010"/>
<path d="M320.5 373.80L321.70 375.96L319.30 375.96Z" fill="#f01010"/>
<path d="M323.7 374.20L324.90 376.36L322.50 376.36Z" fill="#f01010"/>
<path d="M339.2 373.80L340.40 375.96L338.00 375.96Z" fill="#f01010"/>
<path d="M341.5 374.20L342.70 376.36L340.30 376.36Z" fill="#f01010"/>
<path d="M344.1 373.30L345.30 375.46L342.90 375.46Z" fill="#f01010"/>
<path d="M347.2 372.00L348.40 374.16L346.00 374.16Z" fill="#f01010"/>
<path d="M344.4 375.90L345.60 378.06L343.20 378.06Z" fill="#f01010"/>
<path d="M339.2 375.90L340.40 378.06L338.00 378.06Z" fill="#f01010"/>
<path d="M321.8 377.70L323.00 379.86L320.60 379.86Z" fill="#f01010"/>
<path d="M335.1 378.50L336.30 380.66L333.90 380.66Z" fill="#f01010"/>
<path d="M332.7 379.40L333.90 381.56L331.50 381.56Z" fill="#f01010"/>
<path d="M328.2 380.00L329.40 382.16L327.00 382.16Z" fill="#f01010"/>
<path d="M341.1 380.70L342.30 382.86L339.90 382.86Z" fill="#f01010"/>
<path d="M345.0 379.40L346.20 381.56L343.80 381.56Z" fill="#f01010"/>
<path d="M331.4 381.30L332.60 383.46L330.20 383.46Z" fill="#f01010"/>
<path d="M321.8 382.30L323.00 384.46L320.60 384.46Z" fill="#f01010"/>
<path d="M334.0 382.30L335.20 384.46L332.80 384.46Z" fill="#f01010"/>
<path d="M328.2 382.60L329.40 384.76L327.00 384.76Z" fill="#f01010"/>
<path d="M336.9 383.60L338.10 385.76L335.70 385.76Z" fill="#f01010"/>
<path d="M337.9 384.50L339.10 386.66L336.70 386.66Z" fill="#f01010"/>
<path d="M332.7 384.90L333.90 387.06L331.50 387.06Z" fill="#f01010"/>
<path d="M345.7 385.40L346.90 387.56L344.50 387.56Z" fill="#f01010"/>
<path d="M330.8 386.20L332.00 388.36L329.60 388.36Z" fill="#f01010"/>
<path d="M337.3 386.50L338.50 388.66L336.10 388.66Z" fill="#f01010"/>
<path d="M326.0 386.90L327.20 389.06L324.80 389.06Z" fill="#f01010"/>
<path d="M320.5 388.00L321.70 390.16L319.30 390.16Z" fill="#f01010"/>
<path d="M324.7 390.40L325.90 392.56L323.50 392.56Z" fill="#f01010"/>
<path d="M327.6 390.40L328.80 392.56L326.40 392.56Z" fill="#f01010"/>
<path d="M330.2 390.40L331.40 392.56L329.00 392.56Z" fill="#f01010"/>
<path d="M337.7 390.40L338.90 392.56L336.50 392.56Z" fill="#f01010"/>
<path d="M342.4 390.40L343.60 392.56L341.20 392.56Z" fill="#f01010"/>
<g stroke="#33b33f" fill="none">
<line x1="404.1" y1="365.1" x2="404.1" y2="344.2" stroke-width="1" stroke-opacity="0.55"/>
<line x1="404.1" y1="379.9" x2="404.1" y2="383.7" stroke-width="1" stroke-opacity="0.55"/>
<rect x="379.23" y="365.1" width="49.74" height="14.799999999999955" stroke-width="1" stroke-opacity="0.55"/>
<line x1="379.23" y1="373.8" x2="428.97" y2="373.8" stroke-width="1.2" stroke-opacity="0.85"/>
</g>
<rect x="392.90" y="342.70" width="2.2" height="2.2" fill="#33b33f"/>
<rect x="409.30" y="349.00" width="2.2" height="2.2" fill="#33b33f"/>
<rect x="408.20" y="356.80" width="2.2" height="2.2" fill="#33b33f"/>
<rect x="410.70" y="356.20" width="2.2" height="2.2" fill="#33b33f"/>
<rect x="404.20" y="363.30" width="2.2" height="2.2" fill="#33b33f"/>
<rect x="409.60" y="364.70" width="2.2" height="2.2" fill="#33b33f"/>
<rect x="413.80" y="362.80" width="2.2" height="2.2" fill="#33b33f"/>
<rect x="413.80" y="367.50" width="2.2" height="2.2" fill="#33b33f"/>
<rect x="398.00" y="367.80" width="2.2" height="2.2" fill="#33b33f"/>
<rect x="400.00" y="367.80" width="2.2" height="2.2" fill="#33b33f"/>
<rect x="393.80" y="369.90" width="2.2" height="2.2" fill="#33b33f"/>
<rect x="392.70" y="372.70" width="2.2" height="2.2" fill="#33b33f"/>
<rect x="396.90" y="373.90" width="2.2" height="2.2" fill="#33b33f"/>
<rect x="400.40" y="373.90" width="2.2" height="2.2" fill="#33b33f"/>
<rect x="393.80" y="378.80" width="2.2" height="2.2" fill="#33b33f"/>
<rect x="400.00" y="379.10" width="2.2" height="2.2" fill="#33b33f"/>
<rect x="401.80" y="378.80" width="2.2" height="2.2" fill="#33b33f"/>
<rect x="403.70" y="378.80" width="2.2" height="2.2" fill="#33b33f"/>
<rect x="399.40" y="381.90" width="2.2" height="2.2" fill="#33b33f"/>
<rect x="416.70" y="379.80" width="2.2" height="2.2" fill="#33b33f"/>
<rect x="412.90" y="382.20" width="2.2" height="2.2" fill="#33b33f"/>
<rect x="401.80" y="384.70" width="2.2" height="2.2" fill="#33b33f"/>
<g stroke="#22a8c6" fill="none">
<line x1="475.2" y1="347.5" x2="475.2" y2="307.8" stroke-width="1" stroke-opacity="0.55"/>
<line x1="475.2" y1="377.7" x2="475.2" y2="386.2" stroke-width="1" stroke-opacity="0.55"/>
<rect x="450.33" y="347.5" width="49.74" height="30.19999999999999" stroke-width="1" stroke-opacity="0.55"/>
<line x1="450.33" y1="370.5" x2="500.07" y2="370.5" stroke-width="1.2" stroke-opacity="0.85"/>
</g>
<path d="M463.50 259.1H466.70M465.1 257.50V260.70" stroke="#22a8c6" stroke-width="0.65" fill="none"/>
<path d="M470.90 294.5H474.10M472.5 292.90V296.10" stroke="#22a8c6" stroke-width="0.65" fill="none"/>
<path d="M484.80 307.8H488.00M486.4 306.20V309.40" stroke="#22a8c6" stroke-width="0.65" fill="none"/>
<path d="M481.90 335.4H485.10M483.5 333.80V337.00" stroke="#22a8c6" stroke-width="0.65" fill="none"/>
<path d="M465.10 346.3H468.30M466.7 344.70V347.90" stroke="#22a8c6" stroke-width="0.65" fill="none"/>
<path d="M463.50 350.4H466.70M465.1 348.80V352.00" stroke="#22a8c6" stroke-width="0.65" fill="none"/>
<path d="M460.90 359.3H464.10M462.5 357.70V360.90" stroke="#22a8c6" stroke-width="0.65" fill="none"/>
<path d="M464.00 363.4H467.20M465.6 361.80V365.00" stroke="#22a8c6" stroke-width="0.65" fill="none"/>
<path d="M460.90 370.5H464.10M462.5 368.90V372.10" stroke="#22a8c6" stroke-width="0.65" fill="none"/>
<path d="M465.80 369.8H469.00M467.4 368.20V371.40" stroke="#22a8c6" stroke-width="0.65" fill="none"/>
<path d="M472.10 373.9H475.30M473.7 372.30V375.50" stroke="#22a8c6" stroke-width="0.65" fill="none"/>
<path d="M481.00 373.4H484.20M482.6 371.80V375.00" stroke="#22a8c6" stroke-width="0.65" fill="none"/>
<path d="M484.80 375.7H488.00M486.4 374.10V377.30" stroke="#22a8c6" stroke-width="0.65" fill="none"/>
<path d="M465.80 378.4H469.00M467.4 376.80V380.00" stroke="#22a8c6" stroke-width="0.65" fill="none"/>
<path d="M479.70 378.4H482.90M481.3 376.80V380.00" stroke="#22a8c6" stroke-width="0.65" fill="none"/>
<path d="M473.20 385.7H476.40M474.8 384.10V387.30" stroke="#22a8c6" stroke-width="0.65" fill="none"/>
<path d="M482.60 387.3H485.80M484.2 385.70V388.90" stroke="#22a8c6" stroke-width="0.65" fill="none"/>
<path d="M487.50 387.8H490.70M489.1 386.20V389.40" stroke="#22a8c6" stroke-width="0.65" fill="none"/>
<path d="M94.3 14.3V10.2H295.3V14.3" stroke="#666" stroke-width="0.8" fill="none"/>
<text x="194.6" y="8.8" font-size="5.3" text-anchor="middle" fill="#111" stroke="#111" stroke-width="0.1">0.046</text>
<path d="M94.3 31.2V27.2H161.2V31.2" stroke="#666" stroke-width="0.8" fill="none"/>
<text x="127.5" y="25.2" font-size="5.2" text-anchor="middle" fill="#111" stroke="#111" stroke-width="0.1">0.0028</text>
<text x="83" y="41.8" font-size="5.1" text-anchor="start" fill="#111" stroke="#111" stroke-width="0.1">Kruskal-Wallis, p = 0.012</text>
<path d="M497.8 14.5V11.0H638.6V14.5" stroke="#666" stroke-width="0.8" fill="none"/>
<text x="568.2" y="8.9" font-size="5.2" text-anchor="middle" fill="#111" stroke="#111" stroke-width="0.1">0.013</text>
<path d="M497.8 30.3V26.3H568.4V30.3" stroke="#666" stroke-width="0.8" fill="none"/>
<text x="533" y="24.9" font-size="5.2" text-anchor="middle" fill="#111" stroke="#111" stroke-width="0.1">0.0031</text>
<path d="M427.3 46.2V42.3H497.8V46.2" stroke="#666" stroke-width="0.8" fill="none"/>
<text x="462.5" y="40.1" font-size="5.3" text-anchor="middle" fill="#111" stroke="#111" stroke-width="0.1">0.016</text>
<text x="415" y="11.6" font-size="5.25" text-anchor="start" fill="#111" stroke="#111" stroke-width="0.1">Kruskal-Wallis, p = 0.0032</text>
<path d="M333.0 224.6V220.6H475.4V224.6" stroke="#666" stroke-width="0.8" fill="none"/>
<text x="404" y="218.8" font-size="5.4" text-anchor="middle" fill="#111" stroke="#111" stroke-width="0.1">0.0025</text>
<path d="M333.0 240.4V236.4H404.1V240.4" stroke="#666" stroke-width="0.8" fill="none"/>
<text x="368.6" y="234.8" font-size="5.4" text-anchor="middle" fill="#111" stroke="#111" stroke-width="0.1">0.0089</text>
<path d="M261.9 256.4V252.3H333.0V256.4" stroke="#666" stroke-width="0.8" fill="none"/>
<text x="297.4" y="250.6" font-size="5.4" text-anchor="middle" fill="#111" stroke="#111" stroke-width="0.1">0.017</text>
<text x="249" y="219.9" font-size="5.45" text-anchor="start" fill="#111" stroke="#111" stroke-width="0.1">Kruskal-Wallis, p = 0.0024</text>
</svg>
</body></html>
